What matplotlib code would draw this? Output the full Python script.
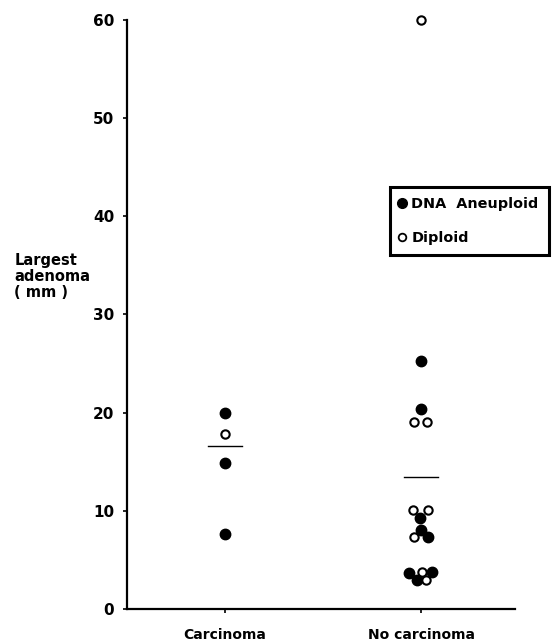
import matplotlib
matplotlib.use("Agg")
import matplotlib.pyplot as plt
from matplotlib.lines import Line2D

categories = ["Carcinoma", "No carcinoma"]

# (category index, value, x-offset within the column)
aneuploid_cat = [0, 0, 0, 1, 1, 1, 1, 1, 1, 1, 1]
aneuploid_val = [20.0, 14.9, 7.6, 25.3, 20.4, 9.3, 8.1, 7.3, 3.7, 3.8, 3.0]
aneuploid_off = [0.0, 0.0, 0.0, 0.0, 0.0, -0.005, 0.0, 0.035, -0.062, 0.056, -0.022]

diploid_cat = [0, 1, 1, 1, 1, 1, 1, 1, 1]
diploid_val = [17.8, 60.0, 19.0, 19.0, 10.1, 10.1, 7.3, 3.8, 3.0]
diploid_off = [0.0, 0.0, -0.037, 0.03, -0.04, 0.033, -0.035, 0.005, 0.026]

mean_vals = [16.6, 13.4]

yticks = [0, 10, 20, 30, 40, 50, 60]

plt.rcParams['font.family'] = ['DejaVu Sans']

fig = plt.figure(figsize=(5.54, 6.44), dpi=100)
ax = fig.add_axes([0.229, 0.0543, 0.701, 0.9147])

ax.set_xlim(-0.5, 1.48)
ax.set_ylim(0, 60)

# aneuploid (filled)
ax.plot([c + o for c, o in zip(aneuploid_cat, aneuploid_off)], aneuploid_val,
        linestyle='none', marker='o', markersize=7.5, markerfacecolor='black',
        markeredgecolor='black', clip_on=False, zorder=3)
# diploid (open)
ax.plot([c + o for c, o in zip(diploid_cat, diploid_off)], diploid_val,
        linestyle='none', marker='o', markersize=6, markerfacecolor='white',
        markeredgecolor='black', markeredgewidth=1.5, clip_on=False, zorder=4)

# mean lines
for i, m in enumerate(mean_vals):
    ax.plot([i - 0.085, i + 0.085], [m, m], color='black', linewidth=1.0)

for s in ['top', 'right']:
    ax.spines[s].set_visible(False)
for s in ['left', 'bottom']:
    ax.spines[s].set_linewidth(1.6)

ax.set_xticks(range(len(categories)))
ax.set_xticklabels(categories, fontsize=10, fontweight='bold')
ax.set_yticks(yticks)
ax.set_yticklabels([str(t) for t in yticks], fontsize=11, fontweight='bold')
ax.tick_params(axis='both', length=3, width=1.2, pad=6)
ax.tick_params(axis='x', pad=11)

fig.text(0.026, 1 - 253 / 644, "Largest\nadenoma\n( mm )", fontsize=10.5,
         fontweight='bold', ha='left', va='top', linespacing=1.1)

handles = [
    Line2D([], [], linestyle='none', marker='o', markersize=7, markerfacecolor='black', markeredgecolor='black'),
    Line2D([], [], linestyle='none', marker='o', markersize=5.5, markerfacecolor='white', markeredgecolor='black', markeredgewidth=1.3),
]
leg = ax.legend(handles, ["DNA  Aneuploid", "Diploid"], loc='upper left',
                bbox_to_anchor=(0.677, 0.7165), frameon=True, fancybox=False,
                framealpha=1, prop={'size': 10.4, 'weight': 'bold'},
                handletextpad=0.5, handlelength=0.3,
                borderpad=0.7, labelspacing=1.4, borderaxespad=0)
leg.get_frame().set_edgecolor('black')
leg.get_frame().set_linewidth(2.2)

fig.savefig("out.png", dpi=100)
